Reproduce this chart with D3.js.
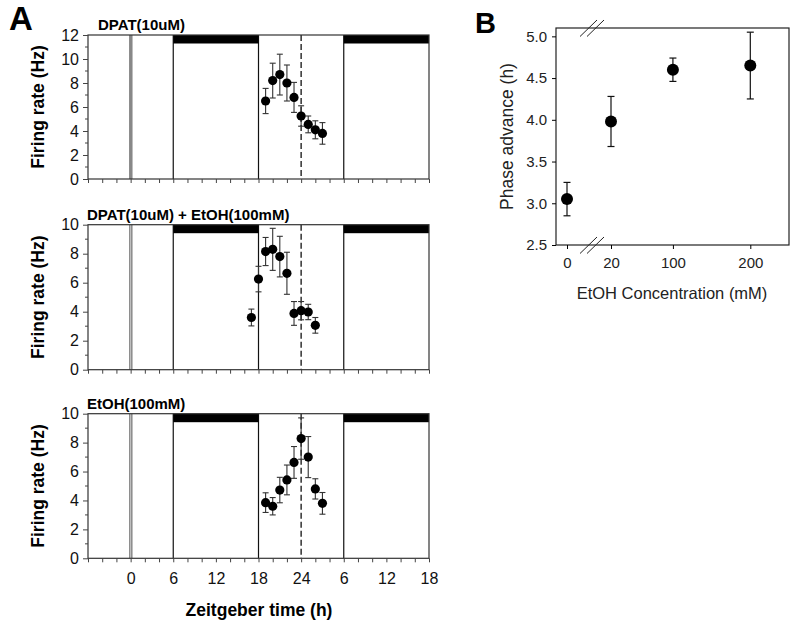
<!DOCTYPE html>
<html><head><meta charset="utf-8">
<script src="https://cdn.jsdelivr.net/npm/d3@7"></script>
<style>
body{margin:0;background:#fff;}
text{font-family:"Liberation Sans",Arial,sans-serif;}
</style></head>
<body><svg id="c" width="800" height="626"></svg>
<script>
// ---------- DATA ----------
const panelTitles = ["DPAT(10uM)", "DPAT(10uM) + EtOH(100mM)", "EtOH(100mM)"];
const panelYMax = [12, 10, 10];
const dpatTime = [19,20,21,22,23,24,25,26,27];
const dpatRate = [6.5,8.2,8.7,8.0,6.8,5.25,4.55,4.1,3.8];
const dpatErr  = [1.05,1.45,1.7,1.5,1.25,0.85,0.7,0.75,0.9];
const comboTime = [17,18,19,20,21,22,23,24,25,26];
const comboRate = [3.6,6.25,8.15,8.3,7.8,6.65,3.88,4.07,3.98,3.06];
const comboErr  = [0.58,0.88,0.97,1.45,1.4,1.45,0.82,0.63,0.53,0.54];
const etohTime = [19,20,21,22,23,24,25,26,27];
const etohRate = [3.85,3.6,4.72,5.42,6.63,8.28,7.0,4.8,3.8];
const etohErr  = [0.68,0.6,0.88,1.03,1.1,1.43,1.42,0.7,0.75];
const xTickValues = [-6,0,6,12,18,24,30,36,42];
const xTickLabels = ["","0","6","12","18","24","6","12","18"];
const darkPeriods = [[6,18],[30,42]];
const lightDarkEdges = [6,18,30];
const zt0 = 0, dashedTime = 24;

const concLabels = ["0","20","100","200"];
const concValues = [0,20,100,200];
const phaseAdv = [3.05,3.98,4.6,4.65];
const phaseErr = [0.2,0.3,0.14,0.4];
const phaseTicks = [2.5,3.0,3.5,4.0,4.5,5.0];

// ---------- LAYOUT ----------
const svg = d3.select("#c");
const series = [
  {t:dpatTime, v:dpatRate, e:dpatErr},
  {t:comboTime, v:comboRate, e:comboErr},
  {t:etohTime, v:etohRate, e:etohErr}
];
const panelBox = [{top:35,bottom:179},{top:224.7,bottom:369.7},{top:413.7,bottom:558.3}];
const x = d3.scaleLinear().domain([-6,42]).range([88,429]);

svg.append("text").attr("x",9).attr("y",30).attr("font-size",33).attr("font-weight","bold").text("A");
svg.append("text").attr("x",475).attr("y",33).attr("font-size",29).attr("font-weight","bold").text("B");

panelBox.forEach((pb,i)=>{
  const y = d3.scaleLinear().domain([0,panelYMax[i]]).range([pb.bottom,pb.top]);
  const g = svg.append("g");
  lightDarkEdges.forEach(t=>{
    g.append("line").attr("x1",x(t)).attr("x2",x(t)).attr("y1",pb.top).attr("y2",pb.bottom)
      .attr("stroke","#111").attr("stroke-width",1.2);
  });
  [-0.8,1.2].forEach(d=>{
    g.append("line").attr("x1",x(zt0)+d).attr("x2",x(zt0)+d).attr("y1",pb.top).attr("y2",pb.bottom)
      .attr("stroke","#777").attr("stroke-width",1.3);
  });
  if(i===0) g.append("rect").attr("x",x(zt0)-0.8).attr("y",pb.top).attr("width",2).attr("height",pb.bottom-pb.top).attr("fill","#888");
  g.append("line").attr("x1",x(dashedTime)).attr("x2",x(dashedTime)).attr("y1",pb.top).attr("y2",pb.bottom)
    .attr("stroke","#111").attr("stroke-width",1.3).attr("stroke-dasharray","6,3");
  darkPeriods.forEach(p=>{
    g.append("rect").attr("x",x(p[0])).attr("y",pb.top).attr("width",x(p[1])-x(p[0])).attr("height",8.5).attr("fill","#000");
  });
  g.append("rect").attr("x",x(-6)).attr("y",pb.top).attr("width",x(42)-x(-6)).attr("height",pb.bottom-pb.top)
    .attr("fill","none").attr("stroke","#333").attr("stroke-width",1.2);
  const yAx = g.append("g").attr("transform",`translate(${x(-6)},0)`)
    .call(d3.axisLeft(y).ticks(panelYMax[i]/2).tickSize(5).tickPadding(4).tickFormat(d3.format("d")));
  yAx.select(".domain").remove();
  yAx.selectAll("text").attr("font-size",16).attr("fill","#111");
  yAx.selectAll("line").attr("stroke","#444");
  const yMinor = d3.range(1,panelYMax[i],2);
  g.selectAll(".ym").data(yMinor).enter().append("line")
    .attr("x1",x(-6)-3).attr("x2",x(-6)).attr("y1",d=>y(d)).attr("y2",d=>y(d)).attr("stroke","#444");
  const xAx = g.append("g").attr("transform",`translate(0,${pb.bottom})`)
    .call(d3.axisBottom(x).tickValues(d3.range(-6,43,2)).tickSize(4)
      .tickFormat(d=>{const k=xTickValues.indexOf(d); return (i===2 && k>=0)?xTickLabels[k]:"";}));
  xAx.select(".domain").remove();
  xAx.selectAll("line").attr("stroke","#444");
  xAx.selectAll("text").attr("font-size",16).attr("fill","#111").attr("dy","1.15em");
  svg.append("text").attr("x",i===0?98:87).attr("y",pb.top-5).attr("font-size",15).attr("font-weight","bold").text(panelTitles[i]);
  const cy=(pb.top+pb.bottom)/2;
  svg.append("text").attr("transform",`translate(44,${cy}) rotate(-90)`).attr("text-anchor","middle")
    .attr("font-size",17.5).attr("font-weight","bold").text("Firing rate (Hz)");
  const s = series[i];
  const pts = s.t.map((t,j)=>({t:t,v:s.v[j],e:s.e[j]}));
  const eb = g.selectAll(".eb").data(pts).enter().append("g").attr("stroke","#333").attr("stroke-width",1.1);
  eb.append("line").attr("x1",d=>x(d.t)).attr("x2",d=>x(d.t)).attr("y1",d=>y(d.v-d.e)).attr("y2",d=>y(d.v+d.e));
  eb.append("line").attr("x1",d=>x(d.t)-3).attr("x2",d=>x(d.t)+3).attr("y1",d=>y(d.v-d.e)).attr("y2",d=>y(d.v-d.e));
  eb.append("line").attr("x1",d=>x(d.t)-3).attr("x2",d=>x(d.t)+3).attr("y1",d=>y(d.v+d.e)).attr("y2",d=>y(d.v+d.e));
  g.selectAll(".pt").data(pts).enter().append("circle").attr("cx",d=>x(d.t)).attr("cy",d=>y(d.v)).attr("r",4.6).attr("fill","#000");
});
svg.append("text").attr("x",259).attr("y",616).attr("text-anchor","middle").attr("font-size",17.5).attr("font-weight","bold").text("Zeitgeber time (h)");

// ---------- PANEL B ----------
const xB = d3.scaleLinear().domain([-5,0,20,250]).range([556,567,611,789]);
const yB = d3.scaleLinear().domain([2.5,5.1]).range([245,28]);
const gB = svg.append("g");
gB.append("rect").attr("x",xB(-5)).attr("y",yB(5.1)).attr("width",xB(250)-xB(-5)).attr("height",yB(2.5)-yB(5.1))
  .attr("fill","none").attr("stroke","#222").attr("stroke-width",1.2);
const yAxB = gB.append("g").attr("transform",`translate(${xB(-5)},0)`)
  .call(d3.axisLeft(yB).tickValues(phaseTicks).tickSize(4).tickPadding(5).tickFormat(d3.format(".1f")));
yAxB.select(".domain").remove();
yAxB.selectAll("text").attr("font-size",15).attr("fill","#222");
const xAxB = gB.append("g").attr("transform",`translate(0,${yB(2.5)})`)
  .call(d3.axisBottom(xB).tickValues(concValues).tickSize(4).tickPadding(8).tickFormat((d,k)=>concLabels[k]));
xAxB.select(".domain").remove();
xAxB.selectAll("text").attr("font-size",15).attr("fill","#222");
[yB(5.1), yB(2.5)].forEach(yy=>{
  [0,7].forEach(dx=>{
    gB.append("line").attr("x1",580+dx).attr("y1",yy+8.5).attr("x2",597+dx).attr("y2",yy-8)
      .attr("stroke","#222").attr("stroke-width",1);
  });
});
const ptsB = concValues.map((c,j)=>({c:c,v:phaseAdv[j],e:phaseErr[j]}));
const ebB = gB.selectAll(".ebB").data(ptsB).enter().append("g").attr("stroke","#111").attr("stroke-width",1.2);
ebB.append("line").attr("x1",d=>xB(d.c)).attr("x2",d=>xB(d.c)).attr("y1",d=>yB(d.v-d.e)).attr("y2",d=>yB(d.v+d.e));
ebB.append("line").attr("x1",d=>xB(d.c)-3.5).attr("x2",d=>xB(d.c)+3.5).attr("y1",d=>yB(d.v-d.e)).attr("y2",d=>yB(d.v-d.e));
ebB.append("line").attr("x1",d=>xB(d.c)-3.5).attr("x2",d=>xB(d.c)+3.5).attr("y1",d=>yB(d.v+d.e)).attr("y2",d=>yB(d.v+d.e));
gB.selectAll(".ptB").data(ptsB).enter().append("circle").attr("cx",d=>xB(d.c)).attr("cy",d=>yB(d.v)).attr("r",6).attr("fill","#000");
svg.append("text").attr("transform",`translate(513,136.5) rotate(-90)`).attr("text-anchor","middle").attr("font-size",17.5).attr("fill","#222").text("Phase advance (h)");
svg.append("text").attr("x",672).attr("y",299).attr("text-anchor","middle").attr("font-size",16.5).attr("fill","#222").text("EtOH Concentration (mM)");
</script></body></html>
